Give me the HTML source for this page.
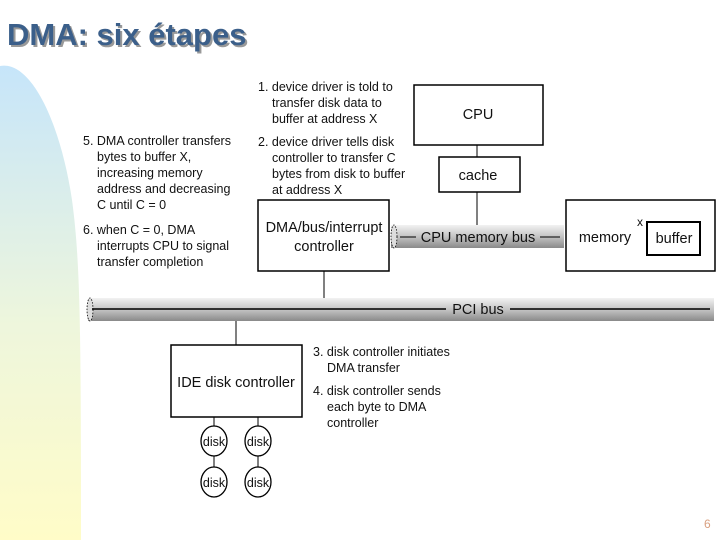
<!DOCTYPE html>
<html><head><meta charset="utf-8"><style>
html,body{margin:0;padding:0;background:#fff;}
svg{display:block;font-family:"Liberation Sans",sans-serif;}
</style></head><body>
<svg width="720" height="540" viewBox="0 0 720 540" xmlns="http://www.w3.org/2000/svg">
<defs>
<linearGradient id="bg" x1="0" y1="0" x2="0" y2="1">
<stop offset="0" stop-color="#c6e5fa"/>
<stop offset="0.55" stop-color="#eef6dc"/>
<stop offset="1" stop-color="#fffcc8"/>
</linearGradient>
<linearGradient id="cyl" x1="0" y1="0" x2="0" y2="1">
<stop offset="0" stop-color="#f2f2f2"/>
<stop offset="0.5" stop-color="#c4c4c4"/>
<stop offset="1" stop-color="#8a8a8a"/>
</linearGradient>
</defs>
<path d="M0,66 C30,60 60,120 72,200 C80,260 81,320 81,540 L0,540 Z" fill="url(#bg)"/>
<text x="9" y="47" font-size="31" font-weight="bold" fill="#999">DMA: six étapes</text>
<text x="7" y="45" font-size="31" font-weight="bold" fill="#3b5f8a">DMA: six étapes</text>

<g font-size="12.5" fill="#111">
<text x="258" y="91">1. device driver is told to</text>
<text x="272" y="107">transfer disk data to</text>
<text x="272" y="123">buffer at address X</text>
<text x="258" y="146">2. device driver tells disk</text>
<text x="272" y="162">controller to transfer C</text>
<text x="272" y="178">bytes from disk to buffer</text>
<text x="272" y="194">at address X</text>
<text x="83" y="145">5. DMA controller transfers</text>
<text x="97" y="161">bytes to buffer X,</text>
<text x="97" y="177">increasing memory</text>
<text x="97" y="193">address and decreasing</text>
<text x="97" y="209">C until C = 0</text>
<text x="83" y="234">6. when C = 0, DMA</text>
<text x="97" y="250">interrupts CPU to signal</text>
<text x="97" y="266">transfer completion</text>
<text x="313" y="356">3. disk controller initiates</text>
<text x="327" y="372">DMA transfer</text>
<text x="313" y="395">4. disk controller sends</text>
<text x="327" y="411">each byte to DMA</text>
<text x="327" y="427">controller</text>
</g>

<g stroke="#000" fill="#fff">
<rect x="414" y="85" width="129" height="60" stroke-width="1.5"/>
<rect x="439" y="157" width="81" height="35" stroke-width="1.5"/>
<line x1="477" y1="145" x2="477" y2="157"/>
<line x1="477" y1="192" x2="477" y2="226"/>
<rect x="258" y="200" width="131" height="71" stroke-width="1.5"/>
<rect x="566" y="200" width="149" height="71" stroke-width="1.5"/>
<rect x="647" y="222" width="53" height="33" stroke-width="2"/>
<rect x="391" y="225" width="173" height="23" fill="url(#cyl)" stroke="none"/>
<ellipse cx="394" cy="236.5" rx="3" ry="11.5" fill="#ddd" stroke-dasharray="1.5,1.5" stroke-width="0.8"/>
<line x1="324" y1="271" x2="324" y2="298"/>
<rect x="88" y="298" width="626" height="23" fill="url(#cyl)" stroke="none"/>
<ellipse cx="90" cy="309.5" rx="3" ry="11.5" fill="#ddd" stroke-dasharray="1.5,1.5" stroke-width="0.8"/>
<line x1="92" y1="309" x2="446" y2="309" stroke-width="1.5"/>
<line x1="510" y1="309" x2="710" y2="309" stroke-width="1.5"/>
<line x1="400" y1="237" x2="416" y2="237"/>
<line x1="540" y1="237" x2="560" y2="237"/>
<line x1="236" y1="321" x2="236" y2="345"/>
<rect x="171" y="345" width="131" height="72" stroke-width="1.5"/>
<line x1="214" y1="417" x2="214" y2="482"/>
<line x1="258" y1="417" x2="258" y2="482"/>
<ellipse cx="214" cy="441" rx="13" ry="15" stroke-width="1.3"/>
<ellipse cx="258" cy="441" rx="13" ry="15" stroke-width="1.3"/>
<ellipse cx="214" cy="482" rx="13" ry="15" stroke-width="1.3"/>
<ellipse cx="258" cy="482" rx="13" ry="15" stroke-width="1.3"/>
</g>

<g font-size="14.5" fill="#111" text-anchor="middle">
<text x="478" y="119">CPU</text>
<text x="478" y="180">cache</text>
<text x="324" y="232">DMA/bus/interrupt</text>
<text x="324" y="251">controller</text>
<text x="478" y="242">CPU memory bus</text>
<text x="605" y="242">memory</text>
<text x="674" y="243">buffer</text>
<text x="478" y="314">PCI bus</text>
<text x="236" y="387">IDE disk controller</text>
</g>
<text x="637" y="226" font-size="12" fill="#111">x</text>
<g font-size="12.5" fill="#111" text-anchor="middle">
<text x="214" y="446">disk</text>
<text x="258" y="446">disk</text>
<text x="214" y="487">disk</text>
<text x="258" y="487">disk</text>
</g>
<text x="704" y="528" font-size="12" fill="#d9a080">6</text>
</svg>
</body></html>
